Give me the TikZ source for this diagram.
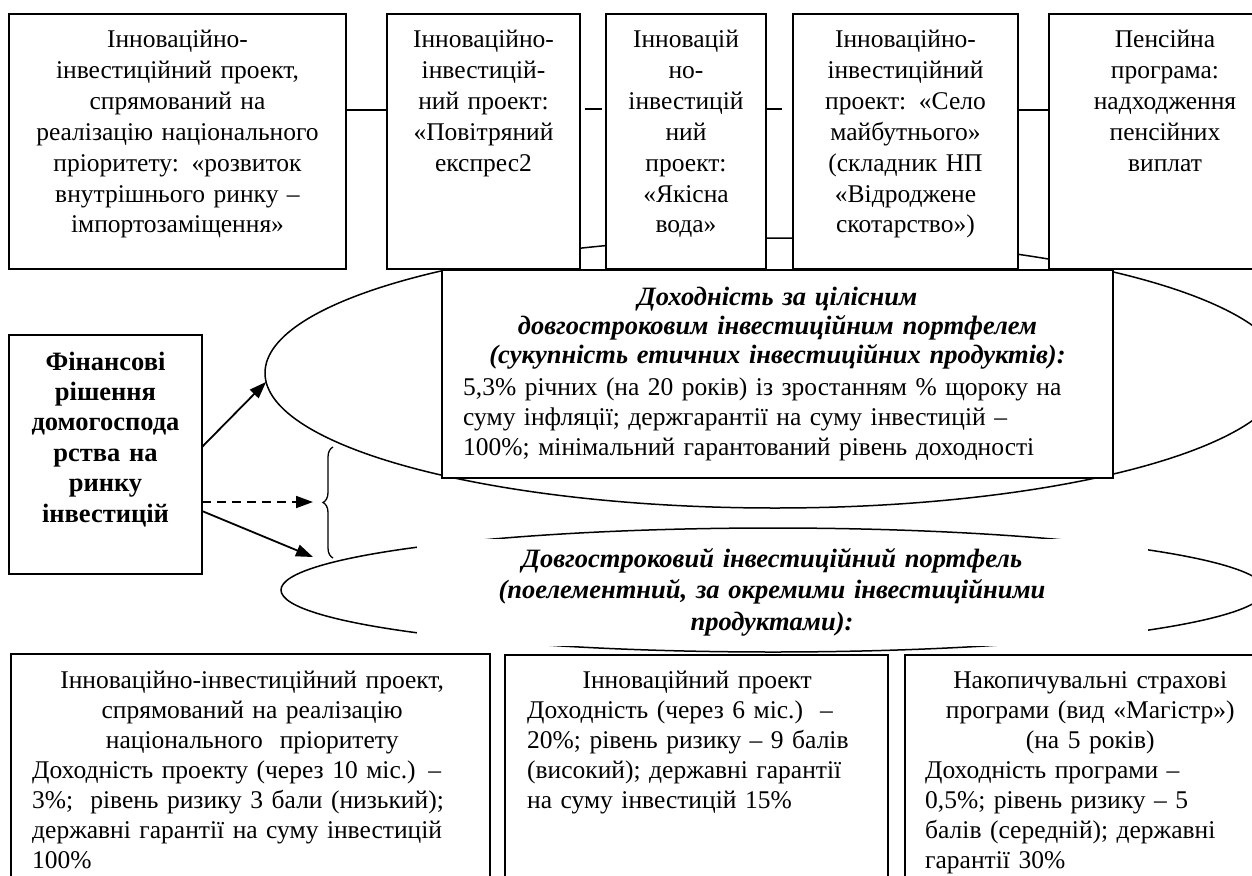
\documentclass[tikz,border=0pt]{standalone}
\usepackage{fontspec}
\setmainfont{Liberation Serif}
\usetikzlibrary{shapes.geometric,arrows.meta,decorations.pathreplacing}
\begin{document}
\begin{tikzpicture}[x=1pt,y=-1pt,
  box/.style={draw, line width=1.6pt, fill=white, rectangle, inner sep=0pt, outer sep=0pt, anchor=north west},
  ell/.style={draw, ellipse, line width=1.5pt, inner sep=0pt, outer sep=0pt},
  toptxt/.style={anchor=base, inner sep=0pt, align=center, font=\fontsize{25.5}{30.8}\selectfont},
  conn/.style={line width=1.5pt},
  arr/.style={-{Triangle[length=17pt,width=12pt]}, line width=1.8pt},
  darr/.style={arr, dash pattern=on 9pt off 6pt}
]
\clip (0,0) rectangle (1252,875);
\fill[white] (0,0) rectangle (1252,875);

% ellipses (behind)
\node[ell, minimum width=1020pt, minimum height=270pt] (ell1) at (775,373) {};
\node[ell, minimum width=984pt, minimum height=124pt] (ell2) at (773,590) {};

% cover and text of lower ellipse
\node[fill=white, inner sep=0pt, minimum width=731pt, minimum height=107pt, anchor=north west] (cov) at (417,539) {};
\node[anchor=base, inner sep=0pt, align=center, text width=720pt,
      font=\fontsize{26.5}{31.5}\selectfont\bfseries\itshape] (ptext) at (772,567)
  {Довгостроковий інвестиційний портфель\\(поелементний, за окремими інвестиційними\\продуктами):};

% top boxes
\node[box, minimum width=337pt, minimum height=255pt] (b1) at (9,14) {};
\node[box, minimum width=193pt, minimum height=255pt] (b2) at (387,14) {};
\node[box, minimum width=160pt, minimum height=255pt] (b3) at (606,14) {};
\node[box, minimum width=225pt, minimum height=255pt] (b4) at (793,14) {};
\node[box, minimum width=240pt, minimum height=255pt] (b5) at (1049,14) {};

\node[toptxt, text width=330pt] (b1t) at (177.5,48)
  {Інноваційно-\\інвестиційний проект,\\спрямований на\\реалізацію національного\\пріоритету: «розвиток\\внутрішнього ринку –\\імпортозаміщення»};
\node[toptxt, text width=190pt] (b2t) at (483.5,48)
  {Інноваційно-\\інвестицій-\\ний проект:\\«Повітряний\\експрес2};
\node[toptxt, text width=158pt] (b3t) at (686,48)
  {Інноваці{}й\\но-\\інвестицій\\ний\\проект:\\«Якісна\\вода»};
\node[toptxt, text width=222pt] (b4t) at (905.5,48)
  {Інноваційно-\\інвестиційний\\проект: «Село\\майбутнього»\\(складник НП\\«Відроджене\\скотарство»)};
\node[toptxt, text width=220pt] (b5t) at (1165,48)
  {Пенсійна\\програма:\\надходження\\пенсійних\\виплат};

\draw[conn] ([yshift=31.5pt]b1.east) -- ([yshift=31.5pt]b2.west);
\draw[conn, shorten <=5pt, shorten >=4pt] ([yshift=32.5pt]b2.east) -- ([yshift=32.5pt]b3.west);
\draw[conn, shorten <=1pt, shorten >=11pt] ([yshift=32.5pt]b3.east) -- ([yshift=32.5pt]b4.west);
\draw[conn] ([yshift=31.5pt]b4.east) -- ([yshift=31.5pt]b5.west);

% rectangle inside upper ellipse
\node[box, minimum width=671pt, minimum height=208pt] (r1) at (442,270) {};
\node[anchor=base, inner sep=0pt, align=center, text width=640pt,
      font=\fontsize{26.5}{29}\selectfont\bfseries\itshape] (r1h) at (777.5,305)
  {Доходність за цілісним\\довгостроковим інвестиційним портфелем\\(сукупність етичних інвестиційних продуктів):};
\node[anchor=base west, inner sep=0pt, align=left, text width=640pt,
      font=\fontsize{25.5}{30}\selectfont] (r1b) at (463,395)
  {5,3\% річних (на 20 років) із зростанням \% щороку на\\суму інфляції; держгарантії на суму інвестицій –\\100\%; мінімальний гарантований рівень доходності};

% left box
\node[box, minimum width=193pt, minimum height=239pt] (lb) at (9,335) {};
\node[anchor=base, inner sep=0pt, align=center, text width=185pt,
      font=\fontsize{26.5}{30.4}\selectfont\bfseries] (lbt) at (105.5,370)
  {Фінансові\\рішення\\домогоспода\\рства на\\ринку\\інвестицій};

% brace and arrows
\coordinate (brtop) at (333,447);
\coordinate (brbot) at (333,558);
\coordinate (brtip) at (313,502);
\coordinate (a3end) at (313,557);
\draw[line width=1.3pt, decorate, decoration={brace, amplitude=10pt, aspect=0.5}] (brbot) -- (brtop);
\draw[arr] ([yshift=7.5pt]lb.east) -- (ell1.181);
\draw[darr] ([yshift=-47.5pt]lb.east) -- (brtip);
\draw[arr] ([yshift=-56.5pt]lb.east) -- (a3end);

% bottom boxes
\node[box, minimum width=479pt, minimum height=260pt] (p1) at (11,654) {};
\node[box, minimum width=383pt, minimum height=260pt] (p2) at (505,655) {};
\node[box, minimum width=400pt, minimum height=260pt] (p3) at (905,655) {};

\node[anchor=base west, inner sep=0pt, text width=440pt,
      font=\fontsize{25.5}{30}\selectfont] (p1t) at (32,688)
  {\raggedright{\centering Інноваційно-інвестиційний проект,\\спрямований на реалізацію\\національного\ \ пріоритету\par}
   Доходність проекту (через 10 міс.) –\\3\%;\ \ рівень ризику 3 бали (низький);\\державні гарантії на суму інвестицій\\100\%\par};
\node[anchor=base west, inner sep=0pt, text width=340pt,
      font=\fontsize{25.5}{30}\selectfont] (p2t) at (527,688)
  {\raggedright{\centering Інноваційний проект\par}
   Доходність (через 6 міс.)\ \ –\\20\%; рівень ризику – 9 балів\\(високий); державні гарантії\\на суму інвестицій 15\%\par};
\node[anchor=base west, inner sep=0pt, text width=330pt,
      font=\fontsize{25.5}{30}\selectfont] (p3t) at (925,688)
  {\raggedright{\centering Накопичувальні страхові\\програми (вид «Магістр»)\\(на 5 років)\par}
   Доходність програми –\\0,5\%; рівень ризику – 5\\балів (середній); державні\\гарантії 30\%\par};
\end{tikzpicture}
\end{document}
